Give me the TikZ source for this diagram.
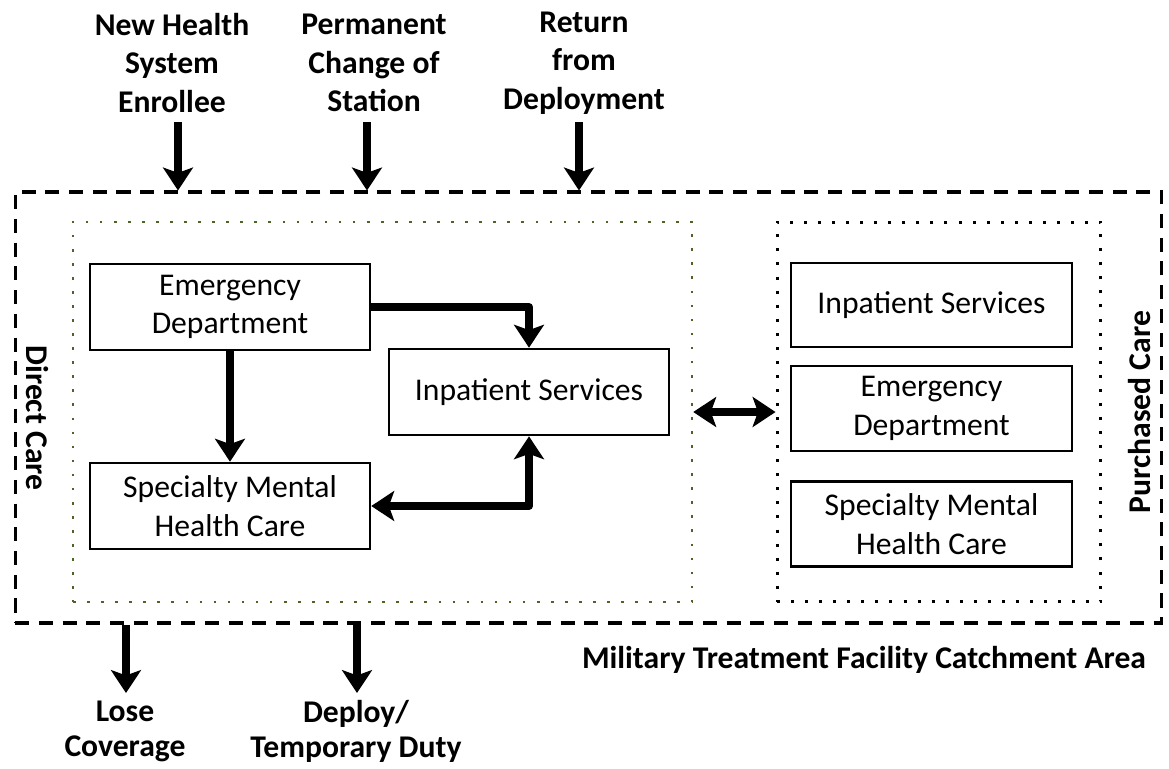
\documentclass[tikz,border=0pt]{standalone}
\usepackage{fontspec}
\setmainfont{Carlito}
\usetikzlibrary{arrows.meta}

\definecolor{olivedot}{RGB}{79,98,40}

\begin{document}
\begin{tikzpicture}[x=0.02cm, y=-0.02cm, font=\fontsize{18}{22}\selectfont]
    \tikzstyle{box_style} = [draw=black, line width=1.5pt, align=center, minimum width=5.6cm, minimum height=1.72cm, inner sep=0pt]
    \tikzstyle{label_style} = [align=center, font=\fontsize{18}{22}\selectfont\bfseries, inner sep=0pt]
    \tikzstyle{outer_style} = [draw=black, line width=1.8pt, dash pattern=on 8pt off 5.5pt]
    \tikzstyle{direct_style} = [draw=olivedot, line width=1.5pt, dash pattern=on 1.5pt off 6.5pt]
    \tikzstyle{purchased_style} = [draw=black, line width=1.7pt, dash pattern=on 1.7pt off 6.3pt]
    \tikzstyle{edge_style} = [draw=black, line width=4.5pt, line join=round, -{Stealth[length=13pt, width=17pt, inset=3pt]}]
    \tikzstyle{both_style} = [edge_style, {Stealth[length=13pt, width=17pt, inset=3pt]}-{Stealth[length=13pt, width=17pt, inset=3pt]}]
    \useasboundingbox (0,0) rectangle (1169,768);

    \node[outer_style, minimum width=22.94cm, minimum height=8.62cm] (mtf) at (588.5,407.5) {};
    \node[direct_style, minimum width=12.38cm, minimum height=7.6cm] (dc) at (382.5,412) {};
    \node[purchased_style, minimum width=6.48cm, minimum height=7.6cm] (pc) at (939,412) {};

    \node[box_style] (ed) at (230,307) {Emergency\\Department};
    \node[box_style] (ip) at (529,392) {Inpatient Services};
    \node[box_style] (smh) at (230,506) {Specialty Mental\\Health Care};

    \node[box_style, minimum width=5.62cm, minimum height=1.68cm] (pip) at (931.5,305) {Inpatient Services};
    \node[box_style, minimum width=5.62cm, minimum height=1.7cm] (ped) at (931.5,408.5) {Emergency\\Department};
    \node[box_style, minimum width=5.62cm, minimum height=1.7cm] (psmh) at (931.5,524) {Specialty Mental\\Health Care};

    \node[label_style] (nhs) at (172,63) {New Health\\System\\Enrollee};
    \node[label_style] (pcs) at (374,63) {Permanent\\Change of\\Station};
    \node[label_style] (rfd) at (584,63) {Return\\from\\Deployment};
    \node[label_style, font=\fontsize{18}{20}\selectfont\bfseries] (lc) at (125,731) {Lose\\Coverage};
    \node[label_style, font=\fontsize{18}{20}\selectfont\bfseries] (dtd) at (356,731) {Deploy/\\Temporary Duty};
    \node[label_style] (mtfl) at (864,660) {Military Treatment Facility Catchment Area};
    \node[label_style, rotate=-90] (dcl) at (37,418) {Direct Care};
    \node[label_style, rotate=90] (pcl) at (1140,412) {Purchased Care};

    \coordinate (in1) at (178,122);
    \coordinate (in2) at (367,122);
    \coordinate (in3) at (579,122);
    \coordinate (out1) at (126,693);
    \coordinate (out2) at (357,693);

    \draw[edge_style]  (ed.east) -| (ip.north);
    \draw[edge_style]  (ed.south) -- (smh.north);
    \draw[both_style]  (smh.east) -| (ip.south);
    \draw[both_style]  (dc.east) -- (pc.west);

    \draw[edge_style]  (in1) -- (in1 |- mtf.north);
    \draw[edge_style]  (in2) -- (in2 |- mtf.north);
    \draw[edge_style]  (in3) -- (in3 |- mtf.north);
    \draw[edge_style]  (out1 |- mtf.south) -- (out1);
    \draw[edge_style]  (out2 |- mtf.south) -- (out2);
\end{tikzpicture}
\end{document}
